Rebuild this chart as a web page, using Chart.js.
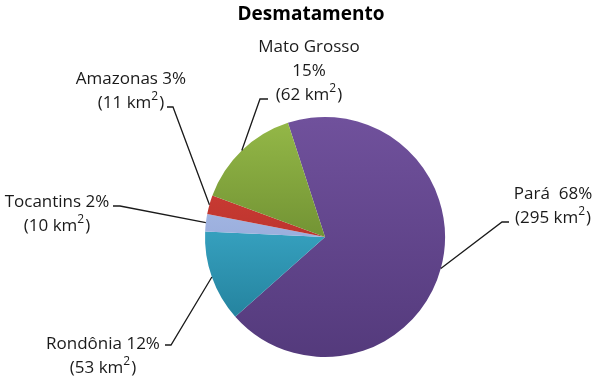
<!DOCTYPE html>
<html lang="pt">
<head>
<meta charset="UTF-8">
<title>Desmatamento</title>
<script src="https://cdn.jsdelivr.net/npm/chart.js"></script>
<style>
  body { margin: 0; background: #fff; }
</style>
</head>
<body>
<canvas id="pieChart" width="600" height="381"></canvas>
<script>
// dados
const estados = ['Pará', 'Rondônia', 'Tocantins', 'Amazonas', 'Mato Grosso'];
const areaKm2 = [295, 53, 10, 11, 62];
const percentuais = [68, 12, 2, 3, 15];

// cores (gradiente vertical, topo -> base)
const corTopo = ['#70519c', '#4cc6e8', '#b6c9f2', '#d9423a', '#95b948'];
const corBase = ['#543a7c', '#1d7690', '#8094c8', '#a22822', '#506e20'];

// posição dos rótulos: centro do texto, primeira linha, cotovelo e ponta da linha guia
const rotulos = [
    { cx: 553, y: 194, cotovelo: [502, 222], ponta: [509, 222], sep: '  ' },
    { cx: 103, y: 344, cotovelo: [171, 345], ponta: [165, 345], sep: ' ' },
    { cx: 57,  y: 202, cotovelo: [120, 206], ponta: [113, 206], sep: ' ' },
    { cx: 131, y: 79,  cotovelo: [173, 107], ponta: [167, 107], sep: ' ' },
    { cx: 309, y: 47,  cotovelo: [260, 99],  ponta: [268, 99],  quebra: true }
];

const fonteRotulo = '17px "Open Sans"';
const fonteSup = '12px "Open Sans"';
const alturaLinha = 24;

function desenhaKm(ctx, valor, cx, y) {
    const a = '(' + valor + ' km';
    const b = '2';
    const c = ')';
    ctx.font = fonteRotulo;
    const wa = ctx.measureText(a).width;
    const wc = ctx.measureText(c).width;
    ctx.font = fonteSup;
    const wb = ctx.measureText(b).width + 1;
    let x = cx - (wa + wb + wc) / 2;
    ctx.textAlign = 'left';
    ctx.font = fonteRotulo;
    ctx.fillText(a, x, y);
    x += wa;
    ctx.font = fonteSup;
    ctx.fillText(b, x, y - 6);
    x += wb;
    ctx.font = fonteRotulo;
    ctx.fillText(c, x, y);
}

const rotulosPlugin = {
    id: 'rotulos',
    afterDraw(chart) {
        const ctx = chart.ctx;
        const meta = chart.getDatasetMeta(0);
        ctx.save();

        // título
        ctx.fillStyle = '#000';
        ctx.font = 'bold 19px "Open Sans"';
        ctx.textAlign = 'center';
        ctx.textBaseline = 'middle';
        ctx.fillText('Desmatamento', 311, 15);

        meta.data.forEach((arc, i) => {
            const r = rotulos[i];
            const meio = (arc.startAngle + arc.endAngle) / 2;
            const ax = arc.x + Math.cos(meio) * arc.outerRadius;
            const ay = arc.y + Math.sin(meio) * arc.outerRadius;

            ctx.strokeStyle = '#1a1a1a';
            ctx.lineWidth = 1.3;
            ctx.beginPath();
            ctx.moveTo(ax, ay);
            ctx.lineTo(r.cotovelo[0], r.cotovelo[1]);
            ctx.lineTo(r.ponta[0], r.ponta[1]);
            ctx.stroke();

            ctx.fillStyle = '#1a1a1a';
            ctx.font = fonteRotulo;
            ctx.textAlign = 'center';
            ctx.textBaseline = 'middle';
            let y = r.y;
            if (r.quebra) {
                ctx.fillText(estados[i], r.cx, y);
                y += alturaLinha;
                ctx.fillText(percentuais[i] + '%', r.cx, y);
            } else {
                ctx.fillText(estados[i] + r.sep + percentuais[i] + '%', r.cx, y);
            }
            y += alturaLinha;
            desenhaKm(ctx, areaKm2[i], r.cx, y);
        });
        ctx.restore();
    }
};

const ctx = document.getElementById('pieChart').getContext('2d');
new Chart(ctx, {
    type: 'pie',
    data: {
        labels: estados,
        datasets: [{
            data: areaKm2,
            backgroundColor: (c) => {
                const area = c.chart.chartArea;
                if (!area) return corTopo[c.dataIndex];
                const g = c.chart.ctx.createLinearGradient(0, area.top, 0, area.bottom);
                g.addColorStop(0, corTopo[c.dataIndex]);
                g.addColorStop(1, corBase[c.dataIndex]);
                return g;
            },
            borderWidth: 0
        }]
    },
    options: {
        responsive: false,
        animation: false,
        rotation: -18,
        layout: { padding: { top: 117, left: 205, right: 155, bottom: 24 } },
        plugins: {
            legend: { display: false },
            title: { display: false },
            tooltip: { enabled: false }
        }
    },
    plugins: [rotulosPlugin]
});
</script>
</body>
</html>
